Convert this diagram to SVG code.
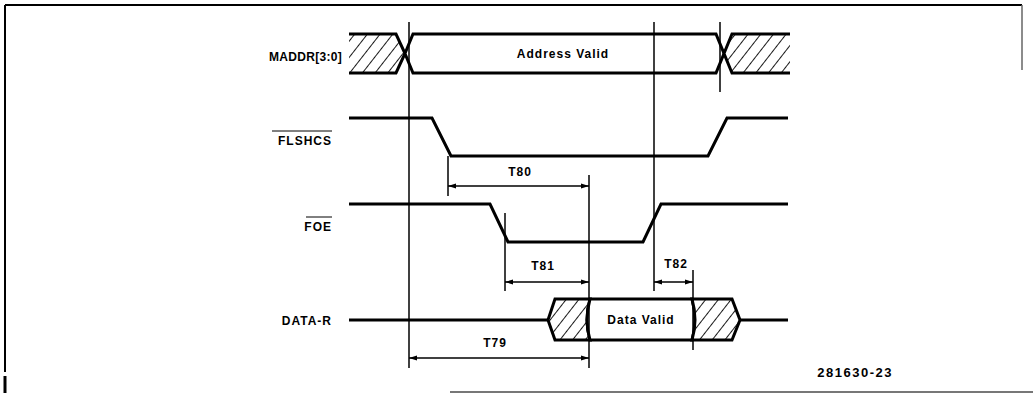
<svg xmlns="http://www.w3.org/2000/svg" width="1033" height="393" viewBox="0 0 1033 393">
<style>
.sig{fill:none;stroke:#000;stroke-width:3;stroke-linejoin:miter}
.box{fill:#fff;stroke:#000;stroke-width:3}
.hat{fill:url(#hatch);stroke:#000;stroke-width:3}
.ref{stroke:#000;stroke-width:1.5;fill:none}
.dim{stroke:#000;stroke-width:1.3;fill:none}
.lbl{font-family:"Liberation Sans",Arial,sans-serif;font-size:12px;font-weight:bold;fill:#000;letter-spacing:1px}
.frame{stroke:#000;stroke-width:2;fill:none}
</style>
<defs>
<pattern id="hatch" patternUnits="userSpaceOnUse" width="10" height="10" patternTransform="rotate(38)">
<rect width="10" height="10" fill="#fff"/>
<line x1="0" y1="0" x2="0" y2="10" stroke="#000" stroke-width="1.8"/>
</pattern>
<marker id="ah" markerWidth="8" markerHeight="6" refX="8" refY="3" orient="auto-start-reverse" markerUnits="userSpaceOnUse">
<path d="M0,0.5 L8,3 L0,5.5 z" fill="#000"/>
</marker>
</defs>
<rect width="1033" height="393" fill="#fff"/>
<g id="frame">
<line class="frame" x1="5" y1="5" x2="1022" y2="5"/>
<line class="frame" x1="5" y1="5" x2="5" y2="372"/>
<line x1="5" y1="376" x2="5" y2="393" stroke="#000" stroke-width="3"/>
<line x1="1022" y1="5" x2="1022" y2="70" stroke="#666" stroke-width="1.5"/>
<line x1="450" y1="392" x2="1033" y2="392" stroke="#777" stroke-width="2"/>
</g>
<g id="labels">
<text class="lbl" x="342" y="61" text-anchor="end" style="letter-spacing:0.3px">MADDR[3:0]</text>
<g id="flshcs-label"><text class="lbl" x="332" y="145" text-anchor="end">FLSHCS</text><line x1="272" y1="131" x2="332" y2="131" stroke="#000" stroke-width="1"/></g>
<g id="foe-label"><text class="lbl" x="332" y="231" text-anchor="end">FOE</text><line x1="306" y1="217" x2="332" y2="217" stroke="#000" stroke-width="1"/></g>
<text class="lbl" x="332" y="325" text-anchor="end">DATA-R</text>
<text class="lbl" x="893" y="377" text-anchor="end" style="font-size:13px;letter-spacing:1.5px">281630-23</text>
</g>
<g id="maddr">
<path class="hat" d="M349,34 H396 L405,53.5 L396,73 H349"/>
<path class="box" d="M405,53.5 L413,34 H716 L724,53.5 L716,73 H413 Z"/>
<text class="lbl" x="563" y="58" text-anchor="middle">Address Valid</text>
<path class="hat" d="M790,34 H732 L724,53.5 L732,73 H790"/>
</g>
<g id="flshcs">
<path class="sig" d="M349,118 H432 L451,156 H708 L727,118 H788"/>
</g>
<g id="foe">
<path class="sig" d="M349,204 H490 L508,242 H643 L661,204 H788"/>
</g>
<g id="data-r">
<path class="sig" d="M349,320 H548"/>
<path class="sig" d="M740,320 H788"/>
<path class="hat" d="M548,320 L555,299 H590 Q584,320 590,340 H555 Z"/>
<path class="box" d="M590,299 H692 Q698,320 692,340 H590 Q584,320 590,299 Z"/>
<path class="hat" d="M692,299 H732 L740,320 L732,340 H692 Q698,320 692,299 Z"/>
<text class="lbl" x="641" y="324" text-anchor="middle">Data Valid</text>
</g>
<g id="connectors">
<line class="ref" x1="409" y1="22" x2="409" y2="368"/>
<line class="ref" x1="720" y1="22" x2="720" y2="92"/>
<line class="ref" x1="654" y1="22" x2="654" y2="291"/>
<line class="ref" x1="589" y1="175" x2="589" y2="368"/>
<line class="ref" x1="448" y1="156" x2="448" y2="196"/>
<line class="ref" x1="505" y1="213" x2="505" y2="291"/>
<line class="ref" x1="693" y1="270" x2="693" y2="350"/>
<line class="dim" x1="448" y1="186" x2="589" y2="186" marker-start="url(#ah)" marker-end="url(#ah)"/>
<line class="dim" x1="505" y1="282" x2="589" y2="282" marker-start="url(#ah)" marker-end="url(#ah)"/>
<line class="dim" x1="654" y1="282" x2="693" y2="282" marker-start="url(#ah)" marker-end="url(#ah)"/>
<line class="dim" x1="409" y1="358" x2="589" y2="358" marker-start="url(#ah)" marker-end="url(#ah)"/>
<text class="lbl" x="520" y="176" text-anchor="middle">T80</text>
<text class="lbl" x="543" y="270" text-anchor="middle">T81</text>
<text class="lbl" x="676" y="268" text-anchor="middle">T82</text>
<text class="lbl" x="495" y="347" text-anchor="middle">T79</text>
</g>
</svg>
